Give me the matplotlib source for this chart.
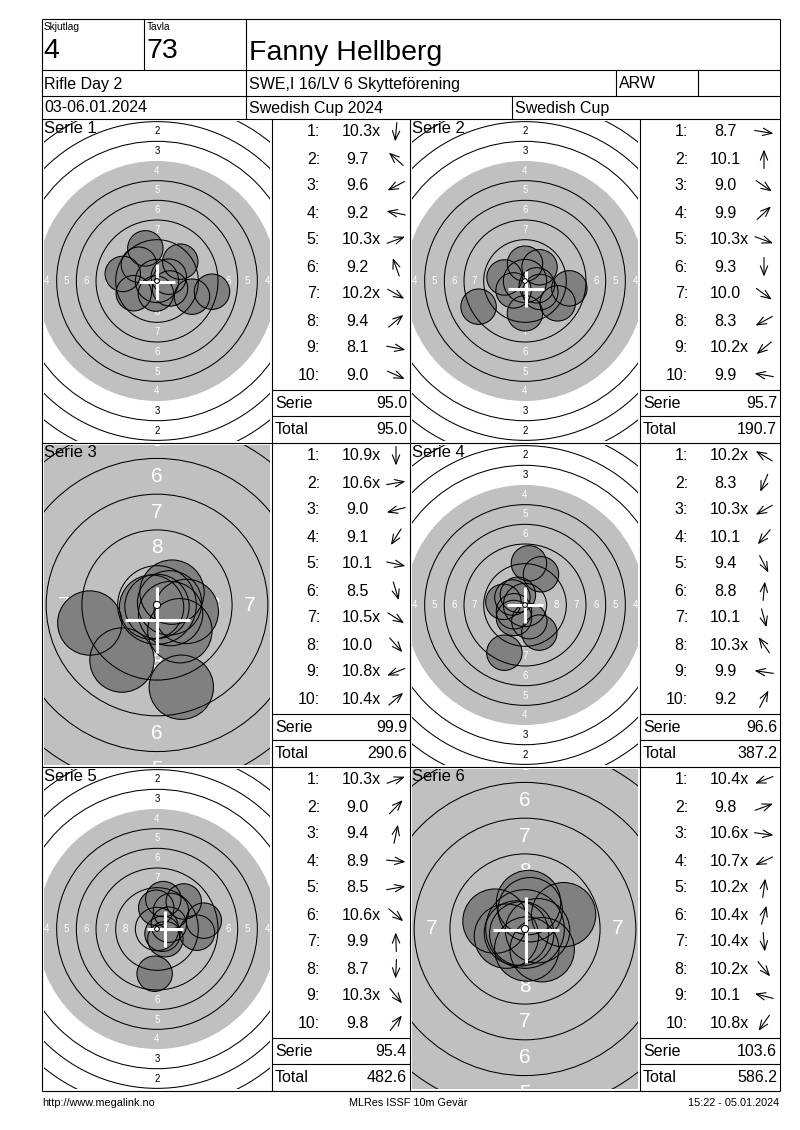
import numpy as np
import matplotlib
matplotlib.use("Agg")
import matplotlib.pyplot as plt
from matplotlib.patches import Circle

plt.rcParams['font.family'] = ['Liberation Sans', 'DejaVu Sans']

# ---------------- header / footer texts ----------------
squad_label, squad = "Skjutlag", "4"
lane_label, lane = "Tavla", "73"
shooter = "Fanny Hellberg"
event = "Rifle Day 2"
club = "SWE,I 16/LV 6 Skytteförening"
nation = "ARW"
dates = "03-06.01.2024"
competition = "Swedish Cup 2024"
cup = "Swedish Cup"
footer_left = "http://www.megalink.no"
footer_mid = "MLRes ISSF 10m Gevär"
footer_right = "15:22 - 05.01.2024"

# ---------------- series data ----------------
series_names = ["Serie 1", "Serie 2", "Serie 3", "Serie 4", "Serie 5", "Serie 6"]

s1_scores = [10.3, 9.7, 9.6, 9.2, 10.3, 9.2, 10.2, 9.4, 8.1, 9.0]
s1_inner = [1, 0, 0, 0, 1, 0, 1, 0, 0, 0]
s1_x = [-0.14, -2.30, -2.95, -4.35, 1.50, -1.48, 1.65, 2.96, 6.99, 4.45]
s1_y = [-1.60, 2.07, -1.55, 0.90, 0.55, 4.15, -0.95, 2.46, -1.36, -1.99]

s2_scores = [8.7, 10.1, 9.0, 9.9, 10.3, 9.3, 10.0, 8.3, 10.2, 9.9]
s2_inner = [0, 0, 0, 0, 1, 0, 0, 0, 1, 0]
s2_x = [5.63, 0.00, 4.15, 1.85, 1.50, 0.00, 1.95, -5.90, -1.45, -2.60]
s2_y = [-0.93, 2.20, -2.84, 1.75, -0.55, -4.10, -1.40, -3.26, -1.20, 0.45]

s3_scores = [10.9, 10.6, 9.0, 9.1, 10.1, 8.5, 10.5, 10.0, 10.8, 10.4]
s3_inner = [1, 1, 0, 0, 0, 0, 1, 0, 1, 1]
s3_x = [0.00, 0.88, -4.70, -2.45, 2.05, 1.70, 0.95, 1.60, -0.38, 1.05]
s3_y = [-0.10, 0.15, -1.26, -3.85, -0.45, -5.75, -0.60, -1.80, -0.15, 0.90]

s4_scores = [10.2, 8.3, 10.3, 10.1, 9.4, 8.8, 10.1, 10.3, 9.9, 9.2]
s4_inner = [1, 0, 1, 0, 0, 0, 0, 1, 0, 0]
s4_x = [-1.60, -2.62, -1.40, -1.40, 1.82, 0.50, 0.55, -0.90, -2.75, 2.03]
s4_y = [0.95, -6.06, -0.80, -1.65, -3.51, 5.30, -2.05, 1.30, 0.40, 3.90]

s5_scores = [10.3, 9.0, 9.4, 8.9, 8.5, 10.6, 9.9, 8.7, 10.3, 9.8]
s5_inner = [1, 0, 0, 0, 0, 1, 0, 0, 1, 0]
s5_x = [1.50, 3.40, 0.80, 5.08, 5.95, 0.70, -0.10, -0.30, 1.06, 1.78]
s5_y = [0.55, 3.50, 3.80, -0.47, 1.06, -0.60, 2.70, -5.68, -1.30, 2.29]

s6_scores = [10.4, 9.8, 10.6, 10.7, 10.2, 10.4, 10.4, 10.2, 10.1, 10.8]
s6_inner = [1, 0, 1, 1, 1, 1, 1, 1, 0, 1]
s6_x = [-1.30, 2.70, 0.88, -0.60, 0.25, 0.36, 0.12, 1.20, -2.10, -0.23]
s6_y = [-0.50, 1.00, -0.12, -0.28, 1.85, 1.35, -1.40, -1.45, 0.55, -0.33]

series_scores = [s1_scores, s2_scores, s3_scores, s4_scores, s5_scores, s6_scores]
series_inner = [s1_inner, s2_inner, s3_inner, s4_inner, s5_inner, s6_inner]
series_x = [s1_x, s2_x, s3_x, s4_x, s5_x, s6_x]
series_y = [s1_y, s2_y, s3_y, s4_y, s5_y, s6_y]
series_zoom = [0, 0, 1, 0, 0, 1]
mpi_x = [0.05, 0.13, 0.03, 0.00, 1.05, 0.07]
mpi_y = [-0.10, -1.00, -1.05, 0.00, 0.00, -0.07]
series_totals = [95.0, 95.7, 99.9, 96.6, 95.4, 103.6]
running_totals = np.cumsum(series_totals)

# ---------------- layout (pixels) ----------------
W, H = 800, 1130
XL, XR = 42, 780
Y_TOP, Y_R1, Y_R2, Y_R3 = 19, 70, 96, 119
panel_tops = [119, 443, 767]
Y_BOT = 1091
target_left = [42, 410]
table_left = [272, 640]
table_right = [410, 780]
FS_TABLE = 11.5

fig = plt.figure(figsize=(W / 100, H / 100), dpi=100)
ax = fig.add_axes([0, 0, 1, 1])
ax.set_xlim(0, W)
ax.set_ylim(H, 0)
ax.axis('off')

lw = 0.8
def hline(y, x0, x1):
    ax.plot([x0, x1], [y, y], color='black', lw=lw, solid_capstyle='butt')
def vline(x, y0, y1):
    ax.plot([x, x], [y0, y1], color='black', lw=lw, solid_capstyle='butt')

# header grid
for y in [Y_TOP, Y_R1, Y_R2, Y_R3]:
    hline(y, XL, XR)
vline(XL, Y_TOP, Y_BOT)
vline(XR, Y_TOP, Y_BOT)
vline(144, Y_TOP, Y_R1)
vline(246, Y_TOP, Y_R1)
vline(246, Y_R1, Y_R3)
vline(616, Y_R1, Y_R2)
vline(698, Y_R1, Y_R2)
vline(512, Y_R2, Y_R3)

# header text
ax.text(44, 27, squad_label, fontsize=7.3, va='center', ha='left')
ax.text(147, 27, lane_label, fontsize=7.3, va='center', ha='left')
ax.text(43, 51, squad, fontsize=20.5, va='center', ha='left')
ax.text(146, 51, lane, fontsize=20.5, va='center', ha='left')
ax.text(249, 53, shooter, fontsize=20.5, va='center', ha='left')
ax.text(44, 84, event, fontsize=11.5, va='center', ha='left')
ax.text(249, 84, club, fontsize=11.5, va='center', ha='left')
ax.text(619, 84, nation, fontsize=11.5, va='center', ha='left')
ax.text(44, 108, dates, fontsize=11.5, va='center', ha='left')
ax.text(249, 108, competition, fontsize=11.5, va='center', ha='left')
ax.text(515, 108, cup, fontsize=11.5, va='center', ha='left')

# panel grid
for t in panel_tops[1:]:
    hline(t, XL, XR)
hline(Y_BOT, XL, XR)
for x in [272, 410, 640]:
    vline(x, Y_R3, Y_BOT)

# footer
ax.text(42, 1103, footer_left, fontsize=7.8, va='center', ha='left')
ax.text(408, 1103, footer_mid, fontsize=7.8, va='center', ha='center')
ax.text(779, 1103, footer_right, fontsize=7.8, va='center', ha='right')


def draw_target(k):
    col, row = k % 2, k // 2
    top = panel_tops[row]
    x0 = target_left[col] + 2
    y0 = top + 2
    w, h = 226, 320
    tax = fig.add_axes([x0 / W, 1 - (y0 + h) / H, w / W, h / H])
    tax.axis('off')
    zoom = series_zoom[k]
    s = 14.3 if zoom else 7.87
    hx, hy = w / 2 / s, h / 2 / s
    margin = 10 / s
    tax.set_xlim(-hx, hx)
    tax.set_ylim(-hy, hy)
    tax.add_patch(Circle((0, 0), 15.25, fc='#c0c0c0', ec='none', zorder=1))
    fs = 15 if zoom else 7
    for n in range(2, 9):
        r = (10 - n) * 2.5 - 1.0
        c = 'white' if n >= 4 else 'black'
        for dx, dy in [(0, 1), (0, -1), (1, 0), (-1, 0)]:
            px, py = dx * r, dy * r
            if abs(px) > hx + margin or abs(py) > hy + margin:
                continue
            tax.text(px, py, str(n), ha='center', va='center',
                     color=c, fontsize=fs, zorder=2, clip_on=True)
    xs, ys = series_x[k], series_y[k]
    for x, y in zip(xs, ys):
        tax.add_patch(Circle((x, y), 2.25, fc='#808080', ec='none', zorder=3))
    for x, y in zip(xs, ys):
        tax.add_patch(Circle((x, y), 2.25, fc='none', ec='black', lw=0.75, zorder=4))
    for n in [1, 2, 3, 5, 6, 7, 8, 9]:
        r = 0.25 + (10 - n) * 2.5
        tax.add_patch(Circle((0, 0), r, fc='none', ec='black', lw=0.75, zorder=4))
    mx, my = mpi_x[k], mpi_y[k]
    tax.plot([mx - 2.3, mx + 2.3], [my, my], color='white', lw=2.2, zorder=5,
             solid_capstyle='butt')
    tax.plot([mx, mx], [my - 2.3, my + 2.3], color='white', lw=2.2, zorder=5,
             solid_capstyle='butt')
    tax.add_patch(Circle((0, 0), 0.25 if zoom else 0.3, fc='white', ec='black',
                         lw=0.75, zorder=6))
    tax.text(0.0, 1.0, series_names[k], transform=tax.transAxes, ha='left',
             va='top', fontsize=12, zorder=10)


def draw_table(k):
    col, row = k % 2, k // 2
    top = panel_tops[row]
    tl, tr = table_left[col], table_right[col]
    for i, (sc, inn) in enumerate(zip(series_scores[k], series_inner[k])):
        y = top + 13 + 27 * i
        ax.text(tl + 48, y, f"{i + 1}:", ha='right', va='center', fontsize=FS_TABLE)
        txt = f"{sc:.1f}" + ("x" if inn else "")
        xo = 0 if sc >= 10 else 4.4
        ax.text(tl + 70 + xo, y, txt, ha='left', va='center', fontsize=FS_TABLE)
        ang = np.arctan2(series_y[k][i], series_x[k][i])
        L = 19
        cx = tl + 124
        dx, dy = L / 2 * np.cos(ang), -L / 2 * np.sin(ang)
        ax.annotate('', xy=(cx + dx, y + dy), xytext=(cx - dx, y - dy),
                    arrowprops=dict(arrowstyle='->,head_length=0.55,head_width=0.22',
                                    lw=0.8, color='black', shrinkA=0, shrinkB=0,
                                    mutation_scale=12))
    hline(top + 271, tl, tr)
    hline(top + 297, tl, tr)
    ax.text(tl + 3, top + 285, "Serie", ha='left', va='center', fontsize=FS_TABLE)
    ax.text(tr - 3, top + 285, f"{series_totals[k]:.1f}", ha='right', va='center',
            fontsize=FS_TABLE)
    ax.text(tl + 3, top + 311, "Total", ha='left', va='center', fontsize=FS_TABLE)
    ax.text(tr - 3, top + 311, f"{running_totals[k]:.1f}", ha='right', va='center',
            fontsize=FS_TABLE)


for k in range(6):
    draw_target(k)
    draw_table(k)

fig.savefig("out.png", dpi=100, facecolor='white')
